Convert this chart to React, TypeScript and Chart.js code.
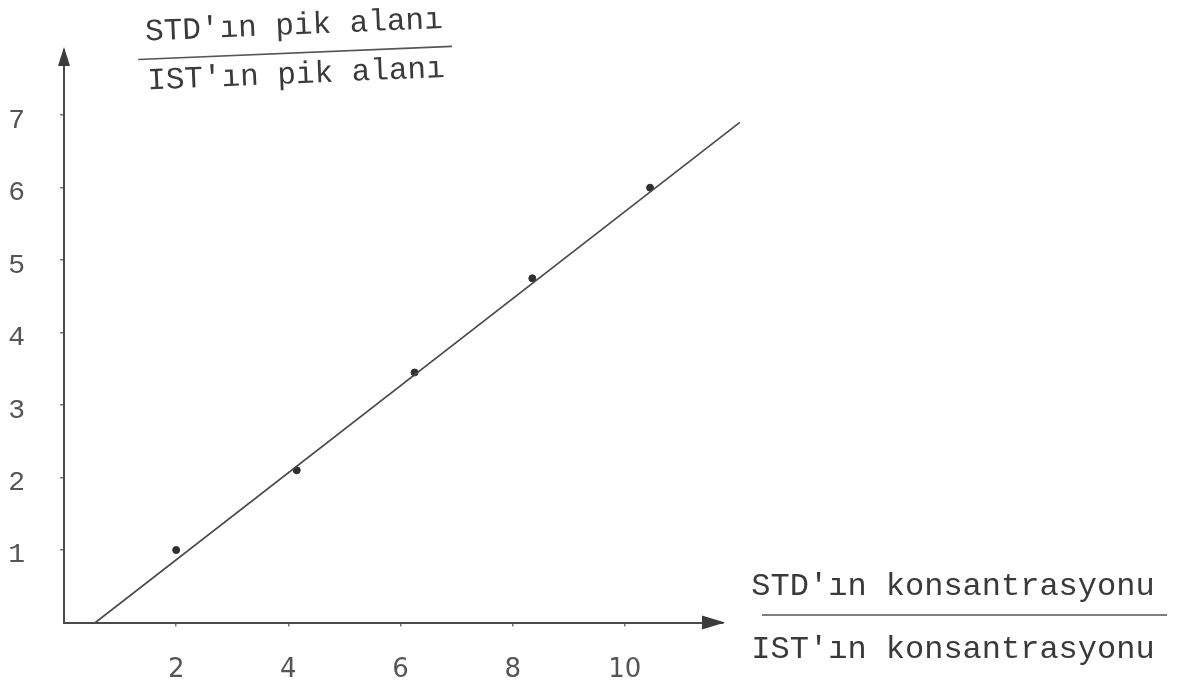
import React, { useEffect, useRef } from "react";
import { Chart, registerables } from "chart.js";

Chart.register(...registerables);

// ---- data ----
const concentrationRatio = [2.0, 4.15, 6.25, 8.35, 10.45];
const peakAreaRatio = [1.0, 2.1, 3.45, 4.75, 6.0];
const fitLineX = [0.56, 12.05];
const fitLineY = [0, 6.9];
const xTickValues = [2, 4, 6, 8, 10];
const yTickValues = [1, 2, 3, 4, 5, 6, 7];
const xAxisMax = 11.75;
const yAxisMax = 7.9;
const yTitleTop = "STD'ın pik alanı";
const yTitleBottom = "IST'ın pik alanı";
const xTitleTop = "STD'ın konsantrasyonu";
const xTitleBottom = "IST'ın konsantrasyonu";

const W = 1179;
const H = 692;
const INK = "#3a3a3a";
const MONO = "'Liberation Mono', 'DejaVu Sans Mono', monospace";

const decorations = {
  id: "decorations",
  afterDraw(chart: any) {
    const ctx = chart.ctx as CanvasRenderingContext2D;
    const xs = chart.scales.x;
    const ys = chart.scales.y;
    const x0 = xs.getPixelForValue(0);
    const y0 = ys.getPixelForValue(0);
    const xEnd = xs.getPixelForValue(xAxisMax);
    const yEnd = ys.getPixelForValue(yAxisMax);
    ctx.save();
    ctx.fillStyle = "#3c3c3c";
    // x arrow head
    ctx.beginPath();
    ctx.moveTo(xEnd + 2, y0);
    ctx.lineTo(xEnd - 21, y0 - 7);
    ctx.lineTo(xEnd - 21, y0 + 7);
    ctx.closePath();
    ctx.fill();
    // y arrow head
    ctx.beginPath();
    ctx.moveTo(x0, yEnd - 3);
    ctx.lineTo(x0 - 6, yEnd + 16);
    ctx.lineTo(x0 + 6, yEnd + 16);
    ctx.closePath();
    ctx.fill();

    // y-axis title (fraction), slightly tilted like the typed original
    ctx.save();
    ctx.translate(295, 51);
    ctx.rotate((-2.4 * Math.PI) / 180);
    ctx.fillStyle = INK;
    ctx.font = `31px ${MONO}`;
    ctx.textAlign = "center";
    ctx.textBaseline = "middle";
    ctx.fillText(yTitleTop, 0, -25);
    ctx.fillText(yTitleBottom, 0, 24);
    ctx.strokeStyle = "#555";
    ctx.lineWidth = 1.6;
    ctx.beginPath();
    ctx.moveTo(-157, 2);
    ctx.lineTo(157, 2);
    ctx.stroke();
    ctx.restore();

    // x-axis title (fraction)
    ctx.save();
    ctx.fillStyle = INK;
    ctx.font = `32px ${MONO}`;
    ctx.textAlign = "center";
    ctx.textBaseline = "middle";
    ctx.fillText(xTitleTop, 953, 587);
    ctx.fillText(xTitleBottom, 953, 650);
    ctx.strokeStyle = "#555";
    ctx.lineWidth = 1.6;
    ctx.beginPath();
    ctx.moveTo(762, 615);
    ctx.lineTo(1167, 615);
    ctx.stroke();
    ctx.restore();

    ctx.restore();
  },
};

export default function App() {
  const canvasRef = useRef<HTMLCanvasElement | null>(null);

  useEffect(() => {
    const canvas = canvasRef.current;
    if (!canvas) return;
    const chart = new Chart(canvas, {
      type: "scatter",
      data: {
        datasets: [
          {
            type: "line",
            label: "fit",
            data: fitLineX.map((x, i) => ({ x, y: fitLineY[i] })),
            borderColor: "#4a4a4a",
            borderWidth: 1.6,
            pointRadius: 0,
            fill: false,
            clip: false as any,
          } as any,
          {
            label: "points",
            data: concentrationRatio.map((x, i) => ({ x, y: peakAreaRatio[i] })),
            backgroundColor: "#2f2f2f",
            borderColor: "#2f2f2f",
            pointRadius: 3.5,
            pointHoverRadius: 3.5,
          },
        ],
      },
      options: {
        animation: false,
        responsive: false,
        maintainAspectRatio: false,
        layout: { padding: { left: 0, top: 50, right: 456, bottom: 0 } },
        plugins: {
          legend: { display: false },
          tooltip: { enabled: false },
        },
        scales: {
          x: {
            type: "linear",
            min: 0,
            max: xAxisMax,
            afterBuildTicks: (axis: any) => {
              axis.ticks = xTickValues.map((v) => ({ value: v }));
            },
            afterFit: (scale: any) => {
              scale.height = H - 622.5;
              scale.paddingLeft = 0;
              scale.paddingRight = 0;
              scale.paddingTop = 0;
              scale.paddingBottom = 0;
            },
            grid: {
              drawOnChartArea: false,
              drawTicks: true,
              tickLength: 4,
              color: "#777",
              lineWidth: 1.5,
            },
            border: { display: true, color: "#4a4a4a", width: 2 },
            ticks: {
              autoSkip: false,
              maxRotation: 0,
              padding: 28,
              color: "#555",
              font: { family: "'DejaVu Sans', sans-serif", size: 26 },
              callback: (v: any) => String(v),
            },
          },
          y: {
            type: "linear",
            min: 0,
            max: yAxisMax,
            afterBuildTicks: (axis: any) => {
              axis.ticks = yTickValues.map((v) => ({ value: v }));
            },
            afterFit: (scale: any) => {
              scale.width = 64;
              scale.paddingLeft = 0;
              scale.paddingRight = 0;
              scale.paddingTop = 0;
              scale.paddingBottom = 0;
            },
            grid: {
              drawOnChartArea: false,
              drawTicks: true,
              tickLength: 4,
              color: "#777",
              lineWidth: 1.5,
            },
            border: { display: true, color: "#4a4a4a", width: 2 },
            ticks: {
              autoSkip: false,
              padding: 35,
              labelOffset: 5,
              color: "#555",
              font: { family: MONO, size: 28 },
              callback: (v: any) => String(v),
            },
          },
        },
      },
      plugins: [decorations],
    } as any);
    return () => chart.destroy();
  }, []);

  return (
    <div
      style={{
        position: "absolute",
        left: 0,
        top: 0,
        width: W,
        height: H,
        background: "#fff",
        overflow: "hidden",
      }}
    >
      <canvas ref={canvasRef} width={W} height={H} style={{ display: "block", width: W, height: H }} />
    </div>
  );
}
